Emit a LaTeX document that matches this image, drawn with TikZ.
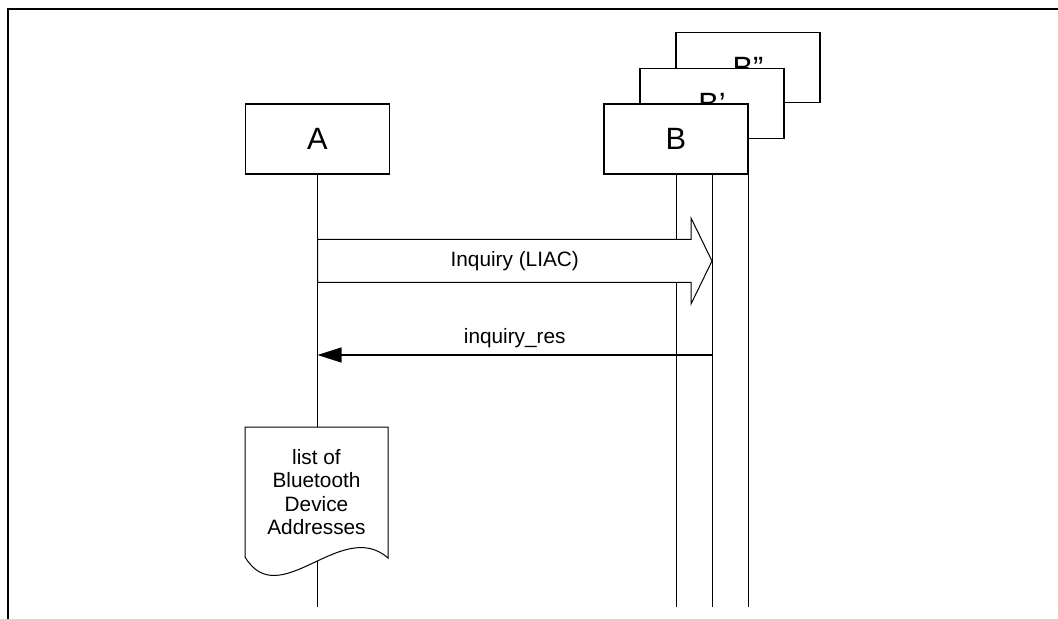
\documentclass[tikz,border=0pt]{standalone}
\usepackage{fontspec}
\setmainfont{Liberation Sans}
\usetikzlibrary{positioning}
\usetikzlibrary{backgrounds}
\usetikzlibrary{calc}
\usetikzlibrary{arrows.meta}

\tikzset{
  actor/.style={draw,fill=white,line width=0.6pt,minimum width=72pt,minimum height=35pt,font=\fontsize{15.4}{18}\selectfont},
  msg/.style={font=\fontsize{10.4}{12}\selectfont},
}

\begin{document}
\begin{tikzpicture}[x=0.5pt,y=-0.5pt,line width=0.6pt]
  \useasboundingbox (0,0) rectangle (1058,619);
  \draw[line width=1pt] (8,619) -- (8,9) -- (1058,9);

  \node[actor](bpp) at (748,67.5) {B\char34};
  \node[actor](bp) at (712,103.5) {B’};
  \node[actor](b) at (676,139) {B};
  \node[actor](a) at (317.5,139) {A};

  \coordinate (bottom) at (0,607);
  \coordinate (row1) at (0,261);
  \coordinate (row2) at (0,355);

  \begin{scope}[on background layer]
    \draw (a.south) -- (a.south |- bottom);
    \draw (b.south) -- (b.south |- bottom);
    \draw (bp.south) -- (bp.south |- bottom);
    \draw (bpp.south) -- (bpp.south |- bottom);
  \end{scope}

  % Inquiry
  \coordinate (inqA) at (a.south |- row1);
  \coordinate (inqB) at (bp.south |- row1);
  \draw[fill=white,line width=0.5pt] ($(inqA)+(0,-21.5)$) -- ($(inqB)+(-21,-21.5)$) -- ($(inqB)+(-21,-43)$)
    -- (inqB) -- ($(inqB)+(-21,43)$) -- ($(inqB)+(-21,21.5)$) -- ($(inqA)+(0,21.5)$) -- cycle;
  \node[msg](inq) at ($(inqA)!0.5!(inqB)$) {Inquiry (LIAC)};

  % inquiry_res
  \coordinate (resA) at (a.south |- row2);
  \coordinate (resB) at (bp.south |- row2);
  \draw[-{Triangle[length=12pt,width=7.5pt]}] (resB) -- (resA) node[msg,midway,above=0pt](res) {inquiry\_res};

  % document
  \coordinate (doc) at (316.5,492);
  \draw[fill=white,line width=0.5pt] ($(doc)+(-71.5,65)$) -- ($(doc)+(-71.5,-65)$) -- ($(doc)+(71.5,-65)$) -- ($(doc)+(71.5,66)$)
    .. controls ($(doc)+(25,25)$) and ($(doc)+(-37,122)$) .. ($(doc)+(-71.5,65)$);
  \node[align=center,font=\fontsize{10.4}{11.7}\selectfont](list) at (doc) {list of\\Bluetooth\\Device\\Addresses};
\end{tikzpicture}
\end{document}
